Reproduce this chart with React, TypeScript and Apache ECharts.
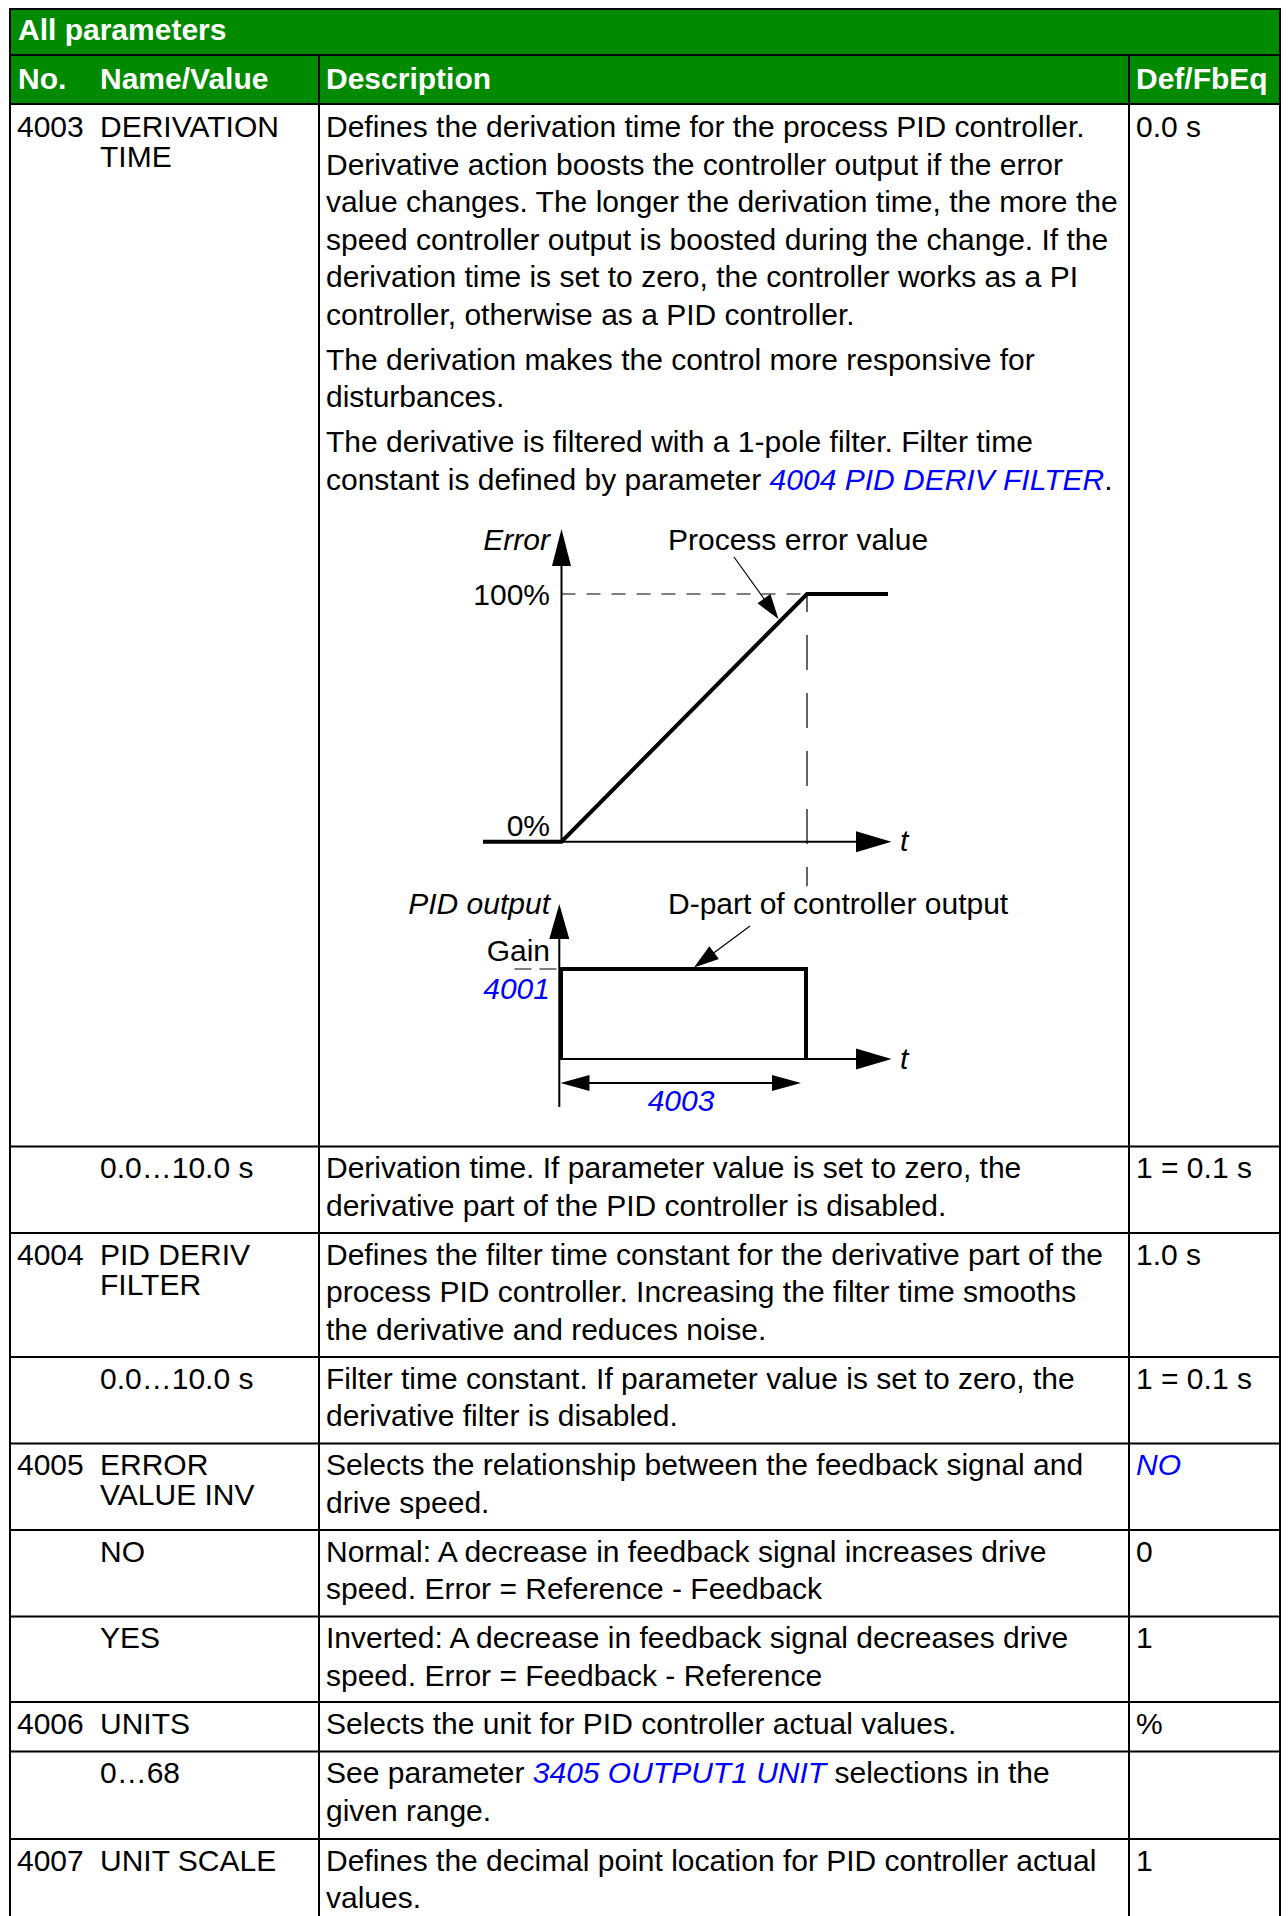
import React, { useEffect, useRef } from "react";
import * as echarts from "echarts";

const FONT = "'Liberation Sans', Arial, Helvetica, sans-serif";
const BLUE = "#0000ff";
const GREEN = "#008a00";

// ---------- table content ----------
const headerTitle = "All parameters";
const columnHeaders = ["No.", "Name/Value", "Description", "Def/FbEq"];

const paramNo = ["4003", "", "4004", "", "4005", "", "", "4006", "", "4007"];

const paramName = [
  ["DERIVATION", "TIME"],
  ["0.0…10.0 s"],
  ["PID DERIV", "FILTER"],
  ["0.0…10.0 s"],
  ["ERROR", "VALUE INV"],
  ["NO"],
  ["YES"],
  ["UNITS"],
  ["0…68"],
  ["UNIT SCALE"],
];

const paramDesc = [
  [
    [
      "Defines the derivation time for the process PID controller.",
      "Derivative action boosts the controller output if the error",
      "value changes. The longer the derivation time, the more the",
      "speed controller output is boosted during the change. If the",
      "derivation time is set to zero, the controller works as a PI",
      "controller, otherwise as a PID controller.",
    ],
    ["The derivation makes the control more responsive for", "disturbances."],
    [
      "The derivative is filtered with a 1-pole filter. Filter time",
      "constant is defined by parameter {link|4004 PID DERIV FILTER}.",
    ],
  ],
  [["Derivation time. If parameter value is set to zero, the", "derivative part of the PID controller is disabled."]],
  [
    [
      "Defines the filter time constant for the derivative part of the",
      "process PID controller. Increasing the filter time smooths",
      "the derivative and reduces noise.",
    ],
  ],
  [["Filter time constant. If parameter value is set to zero, the", "derivative filter is disabled."]],
  [["Selects the relationship between the feedback signal and", "drive speed."]],
  [["Normal: A decrease in feedback signal increases drive", "speed. Error = Reference - Feedback"]],
  [["Inverted: A decrease in feedback signal decreases drive", "speed. Error = Feedback - Reference"]],
  [["Selects the unit for PID controller actual values."]],
  [["See parameter {link|3405 OUTPUT1 UNIT} selections in the", "given range."]],
  [["Defines the decimal point location for PID controller actual", "values."]],
];

const paramDef = ["0.0 s", "1 = 0.1 s", "1.0 s", "1 = 0.1 s", "{link|NO}", "0", "1", "%", "", "1"];

// ---------- diagram values ----------
const errorT = [-0.32, 0, 1, 1.33];
const errorPct = [0, 0, 100, 100];
const errorRefH = [[0, 100], [1, 100]];
const errorRefV = [[1, 100], [1, -18]];
const dPartT = [0, 0, 1, 1];
const dPartGain = [0, 100, 100, 0];
const gainRef = [[-0.19, 100], [0, 100]];
const errorAxisLabels = ["Error", "100%", "0%", "t"];
const pidAxisLabels = ["PID output", "Gain", "4001", "4003", "t"];
const annotations = ["Process error value", "D-part of controller output"];

// ---------- layout ----------
const W = 1288;
const H = 1916;
const tableLeft = 10;
const tableRight = 1280;
const tableTop = 9;
const headerMid = 55;
const colDesc = 319;
const colDef = 1129;
const headerX = [18, 100, 326, 1136];
const textX = { no: 17, name: 100, desc: 326, def: 1136 };
const rowTops = [104, 1146.5, 1233, 1357, 1443.5, 1530, 1616.5, 1702, 1751.5, 1839];

// diagram scales: origin pixel and pixels per unit
const scaleA = { x0: 561.5, y0: 841.7, kx: 245.5, ky: 2.477, xMin: -0.4, xMax: 1.4, yMin: -20, yMax: 100 };
const scaleB = { x0: 561, y0: 1059, kx: 245, ky: 0.9, xMin: -0.4, xMax: 1.4, yMin: 0, yMax: 100 };

function gridOf(s: typeof scaleA) {
  return {
    left: s.x0 + s.xMin * s.kx,
    top: s.y0 - s.yMax * s.ky,
    width: (s.xMax - s.xMin) * s.kx,
    height: (s.yMax - s.yMin) * s.ky,
    containLabel: false,
  };
}

const rich = {
  link: { fill: BLUE, fontStyle: "italic", fontSize: 30, fontFamily: FONT },
};

function txt(x: number, y: number, text: string, extra: any = {}) {
  return {
    type: "text",
    x,
    y,
    silent: true,
    z: 10,
    style: {
      text,
      fontSize: 30,
      fontFamily: FONT,
      fill: "#000",
      align: "left",
      verticalAlign: "middle",
      rich,
      ...extra,
    },
  };
}

function seg(x1: number, y1: number, x2: number, y2: number, w = 2, extra: any = {}) {
  return {
    type: "line",
    silent: true,
    z: 5,
    shape: { x1, y1, x2, y2 },
    style: { stroke: "#000", lineWidth: w, ...extra },
  };
}

function arrowHead(tx: number, ty: number, dx: number, dy: number, len: number, half: number) {
  const l = Math.hypot(dx, dy);
  const ux = dx / l;
  const uy = dy / l;
  const bx = tx - ux * len;
  const by = ty - uy * len;
  return {
    type: "polygon",
    silent: true,
    z: 6,
    shape: {
      points: [
        [tx, ty],
        [bx - uy * half, by + ux * half],
        [bx + uy * half, by - ux * half],
      ],
    },
    style: { fill: "#000" },
  };
}

function arrowLine(x1: number, y1: number, x2: number, y2: number, w: number, len: number, half: number) {
  const l = Math.hypot(x2 - x1, y2 - y1);
  const ux = (x2 - x1) / l;
  const uy = (y2 - y1) / l;
  return [
    seg(x1, y1, x2 - ux * (len - 1), y2 - uy * (len - 1), w),
    arrowHead(x2, y2, x2 - x1, y2 - y1, len, half),
  ];
}

function buildOption() {
  const g: any[] = [];
  // header background
  g.push({
    type: "rect",
    silent: true,
    z: 1,
    shape: { x: tableLeft, y: tableTop, width: tableRight - tableLeft, height: rowTops[0] - tableTop },
    style: { fill: GREEN },
  });
  // horizontal rules
  [tableTop, headerMid, ...rowTops].forEach((y) => g.push(seg(tableLeft, y, tableRight, y)));
  // vertical rules
  g.push(seg(tableLeft, tableTop - 1, tableLeft, H));
  g.push(seg(tableRight, tableTop - 1, tableRight, H));
  g.push(seg(colDesc, headerMid, colDesc, H));
  g.push(seg(colDef, headerMid, colDef, H));

  // header texts
  g.push(txt(headerX[0], 29, headerTitle, { fill: "#fff", fontWeight: "bold" }));
  columnHeaders.forEach((h, i) => g.push(txt(headerX[i], 78, h, { fill: "#fff", fontWeight: "bold" })));

  // rows
  paramNo.forEach((no, r) => {
    const y0 = rowTops[r] + (r === 0 ? 22.5 : 21.3);
    if (no) g.push(txt(textX.no, y0, no));
    paramName[r].forEach((line, k) => g.push(txt(textX.name, y0 + k * 30, line)));
    let y = y0;
    paramDesc[r].forEach((para, p) => {
      if (p > 0) y += 7.5;
      para.forEach((line) => {
        g.push(txt(textX.desc, y, line));
        y += 37.5;
      });
    });
    if (paramDef[r]) g.push(txt(textX.def, y0, paramDef[r]));
  });

  // ---------- diagram A (error) ----------
  const oAx = scaleA.x0;
  const oAy = scaleA.y0;
  g.push(...arrowLine(oAx, oAy, oAx, 529, 2, 37, 9.5));
  g.push(...arrowLine(oAx, oAy, 891.5, oAy, 2, 35.5, 10.5));
  g.push(...arrowLine(734, 557, 778.5, 619, 1.2, 25, 8));
  g.push(txt(550, 539, errorAxisLabels[0], { align: "right", fontStyle: "italic" }));
  g.push(txt(550, oAy - 100 * scaleA.ky, errorAxisLabels[1], { align: "right" }));
  g.push(txt(550, 825, errorAxisLabels[2], { align: "right" }));
  g.push(txt(900, oAy - 1, errorAxisLabels[3], { fontStyle: "italic" }));
  g.push(txt(668, 539, annotations[0]));

  // ---------- diagram B (PID output) ----------
  const oBx = 559.3;
  const oBy = scaleB.y0;
  g.push(seg(oBx, 1107, oBx, oBy, 2));
  g.push(...arrowLine(oBx, oBy, oBx, 904, 2, 35, 10));
  g.push(...arrowLine(oBx, oBy, 891.5, oBy, 2, 35.5, 10.5));
  g.push(...arrowLine(750, 926, 694, 967.5, 1.2, 25, 8));
  // double arrow for 4003
  g.push(seg(580, 1083, 782, 1083, 2));
  g.push(arrowHead(560.5, 1083, -1, 0, 29, 8));
  g.push(arrowHead(801, 1083, 1, 0, 29, 8));
  g.push(txt(550, 903, pidAxisLabels[0], { align: "right", fontStyle: "italic" }));
  g.push(txt(550, 950, pidAxisLabels[1], { align: "right" }));
  g.push(txt(550, 988, pidAxisLabels[2], { align: "right", fontStyle: "italic", fill: BLUE }));
  g.push(txt(681, 1100, pidAxisLabels[3], { align: "center", fontStyle: "italic", fill: BLUE }));
  g.push(txt(900, oBy - 1, pidAxisLabels[4], { fontStyle: "italic" }));
  g.push(txt(668, 903, annotations[1]));

  const hiddenValueAxis = (min: number, max: number, gridIndex: number) => ({
    type: "value",
    gridIndex,
    min,
    max,
    show: false,
    scale: true,
    splitLine: { show: false },
  });

  const lineSeries = (data: number[][], idx: number, width: number, type: any = "solid", dashOffset = 0) => ({
    type: "line",
    xAxisIndex: idx,
    yAxisIndex: idx,
    data,
    symbol: "none",
    clip: false,
    silent: true,
    z: 4,
    lineStyle: { color: "#000", width, type, dashOffset, join: "miter", cap: "butt" },
  });

  return {
    animation: false,
    backgroundColor: "#ffffff",
    grid: [gridOf(scaleA), gridOf(scaleB)],
    xAxis: [hiddenValueAxis(scaleA.xMin, scaleA.xMax, 0), hiddenValueAxis(scaleB.xMin, scaleB.xMax, 1)],
    yAxis: [hiddenValueAxis(scaleA.yMin, scaleA.yMax, 0), hiddenValueAxis(scaleB.yMin, scaleB.yMax, 1)],
    series: [
      lineSeries(errorT.map((t, i) => [t, errorPct[i]]), 0, 4),
      lineSeries(errorRefH, 0, 1.2, [14, 11]),
      lineSeries(errorRefV, 0, 1.2, [35, 23], 17),
      lineSeries(dPartT.map((t, i) => [t, dPartGain[i]]), 1, 4),
      lineSeries(gainRef, 1, 1.2, [17, 8]),
    ],
    graphic: { elements: g },
  };
}

export default function App() {
  const ref = useRef<HTMLDivElement>(null);
  useEffect(() => {
    document.body.style.margin = "0";
    if (!ref.current) return;
    const chart = echarts.init(ref.current, null, { renderer: "svg" });
    chart.setOption(buildOption() as any);
    return () => chart.dispose();
  }, []);
  return <div ref={ref} style={{ width: W, height: H }} />;
}
